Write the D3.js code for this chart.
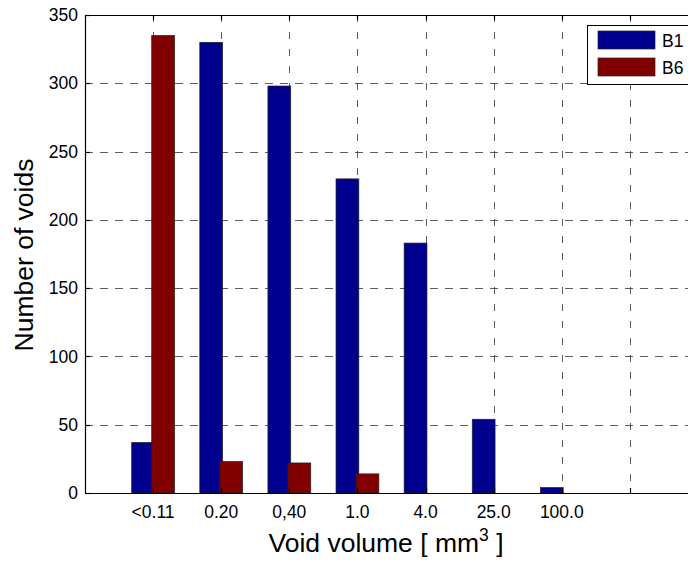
<html>

<head>
    <script src="https://d3js.org/d3.v7.min.js"></script>
    <style>
        body { margin: 0; background: #fff; }
        text { font-family: Arial, "Liberation Sans", Helvetica, sans-serif; fill: #000; }
    </style>
</head>

<body>
    <svg id="chart" width="688" height="563"></svg>
    <script>
        // data
        var categories = [1, 2, 3, 4, 5, 6, 7, 8];
        var tickLabels = ["<0.11", "0.20", "0,40", "1.0", "4.0", "25.0", "100.0", ""];
        var b1 = [37, 330, 298, 230, 183, 54, 4, 0];
        var b6 = [335, 23, 22, 14, 0, 0, 0, 0];
        var seriesNames = ["B1", "B6"];
        var seriesColors = ["#00008f", "#800000"];
        var yTicks = [0, 50, 100, 150, 200, 250, 300, 350];

        var svg = d3.select("#chart");
        var plotL = 85, plotT = 15, plotB = 493, plotR = 698;

        var x = d3.scaleLinear().domain([0, 9]).range([plotL, plotR]);
        var y = d3.scaleLinear().domain([0, 350]).range([plotB, plotT]);

        var barW = 0.335, offs = [-0.147, 0.147];

        // grid (dashed)
        var grid = svg.append("g")
            .attr("stroke", "#333")
            .attr("stroke-width", 0.8);
        grid.selectAll(".vg")
            .data(categories)
            .enter().append("line")
            .attr("stroke-dasharray", "7,10")
            .attr("x1", function (d) { return Math.round(x(d)) + 0.5; })
            .attr("x2", function (d) { return Math.round(x(d)) + 0.5; })
            .attr("y1", plotT)
            .attr("y2", plotB);
        grid.selectAll(".hg")
            .data(yTicks.slice(1, -1))
            .enter().append("line")
            .attr("stroke-dasharray", "8,7")
            .attr("x1", plotL)
            .attr("x2", plotR)
            .attr("y1", function (d) { return Math.round(y(d)) + 0.5; })
            .attr("y2", function (d) { return Math.round(y(d)) + 0.5; });

        // bars, B1 first then B6 on top
        [b1, b6].forEach(function (vals, s) {
            svg.append("g").selectAll("rect")
                .data(vals)
                .enter().append("rect")
                .attr("x", function (d, i) { return x(categories[i] + offs[s] - barW / 2); })
                .attr("width", x(barW) - x(0))
                .attr("y", function (d) { return y(d); })
                .attr("height", function (d) { return y(0) - y(d); })
                .attr("fill", seriesColors[s])
                .attr("stroke", "#222")
                .attr("stroke-width", 0.7);
        });

        // axes box
        var ax = svg.append("g").attr("stroke", "#000").attr("stroke-width", 1.2).attr("fill", "none");
        ax.append("line").attr("x1", plotL).attr("x2", plotR).attr("y1", plotB + 0.5).attr("y2", plotB + 0.5);
        ax.append("line").attr("x1", plotL).attr("x2", plotR).attr("y1", plotT + 0.5).attr("y2", plotT + 0.5);
        ax.append("line").attr("x1", plotL + 0.5).attr("x2", plotL + 0.5).attr("y1", plotT).attr("y2", plotB);

        // inward ticks
        ax.selectAll(".xtb")
            .data(categories)
            .enter().append("line")
            .attr("x1", function (d) { return Math.round(x(d)) + 0.5; })
            .attr("x2", function (d) { return Math.round(x(d)) + 0.5; })
            .attr("y1", plotB)
            .attr("y2", plotB - 5);
        ax.selectAll(".xtt")
            .data(categories)
            .enter().append("line")
            .attr("x1", function (d) { return Math.round(x(d)) + 0.5; })
            .attr("x2", function (d) { return Math.round(x(d)) + 0.5; })
            .attr("y1", plotT)
            .attr("y2", plotT + 5);
        ax.selectAll(".yt")
            .data(yTicks)
            .enter().append("line")
            .attr("x1", plotL)
            .attr("x2", plotL + 5)
            .attr("y1", function (d) { return Math.round(y(d)) + 0.5; })
            .attr("y2", function (d) { return Math.round(y(d)) + 0.5; });

        // tick labels
        svg.selectAll(".xl")
            .data(categories)
            .enter().append("text")
            .attr("x", function (d) { return x(d); })
            .attr("y", 518)
            .attr("text-anchor", "middle")
            .style("font-size", "17.5px")
            .text(function (d, i) { return tickLabels[i]; });
        svg.selectAll(".yl")
            .data(yTicks)
            .enter().append("text")
            .attr("x", 78)
            .attr("y", function (d) { return y(d); })
            .attr("dy", "0.35em")
            .attr("text-anchor", "end")
            .style("font-size", "17.5px")
            .text(function (d) { return d; });

        // axis titles
        var xt = svg.append("text")
            .attr("x", 386)
            .attr("y", 552)
            .attr("text-anchor", "middle")
            .style("font-size", "26.5px");
        xt.append("tspan").text("Void volume [ mm");
        xt.append("tspan").attr("dy", -11).style("font-size", "17.5px").text("3");
        xt.append("tspan").attr("dy", 11).text(" ]");

        svg.append("text")
            .attr("transform", "translate(33,255) rotate(-90)")
            .attr("text-anchor", "middle")
            .style("font-size", "26.5px")
            .text("Number of voids");

        // legend
        var lg = svg.append("g");
        lg.append("rect")
            .attr("x", 587.5).attr("y", 25.5)
            .attr("width", 120).attr("height", 59)
            .attr("fill", "#fff").attr("stroke", "#000").attr("stroke-width", 1);
        seriesNames.forEach(function (name, i) {
            lg.append("rect")
                .attr("x", 598).attr("y", 31 + i * 27)
                .attr("width", 57).attr("height", 18)
                .attr("fill", seriesColors[i])
                .attr("stroke", "#222").attr("stroke-width", 0.7);
            lg.append("text")
                .attr("x", 662).attr("y", 47 + i * 27)
                .style("font-size", "17.5px")
                .text(name);
        });
    </script>
</body>

</html>
